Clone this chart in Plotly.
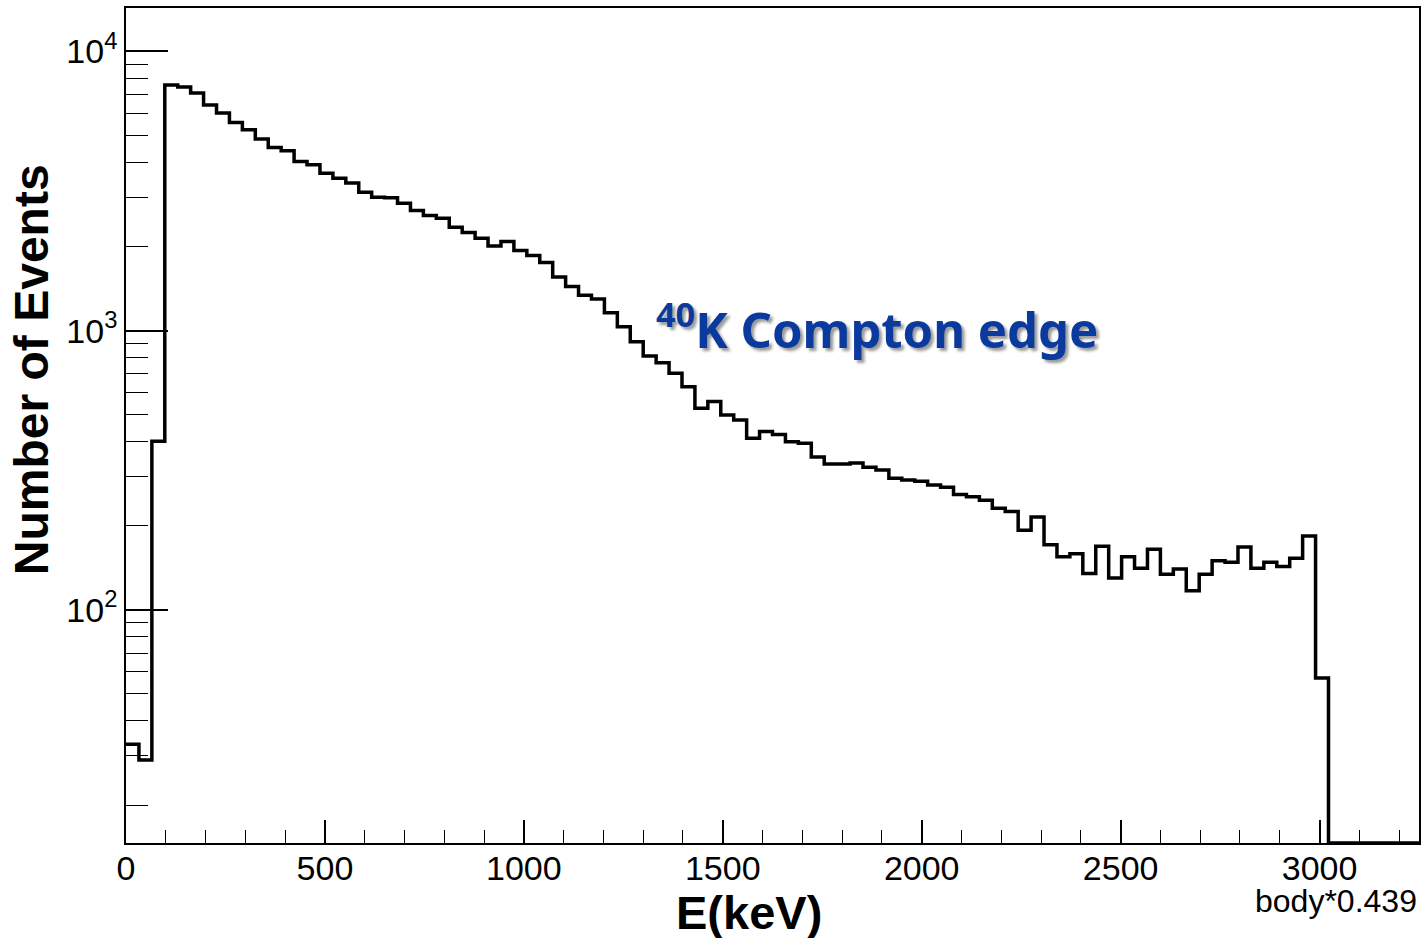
import numpy as np
import plotly.graph_objects as go

# ---- data ----
E_MIN, E_MAX, N_BINS = 0.0, 3250.0, 100
counts = [
    33, 29, 402, 7580, 7457, 7096, 6427, 6015, 5566, 5241,
    4853, 4529, 4406, 4036, 3928, 3666, 3517, 3376, 3133, 3006,
    2990, 2862, 2692, 2584, 2529, 2348, 2246, 2144, 2012, 2084,
    1935, 1857, 1753, 1558, 1438, 1339, 1299, 1160, 1033, 913,
    812, 768, 704, 630, 527, 557, 499, 479, 412, 435,
    425, 400, 395, 353, 333, 333, 336, 324, 317, 296,
    292, 289, 280, 275, 259, 254, 247, 231, 225, 193,
    215, 171, 155, 159, 135, 169, 130, 155, 141, 165,
    134, 140, 117, 134, 150, 148, 168, 141, 148, 143,
    153, 184, 57, 0, 0, 0, 0, 0, 0, 0,
]
x_major_ticks = [0, 500, 1000, 1500, 2000, 2500, 3000]
y_major_ticks = [100, 1000, 10000]
y_major_labels = ["10<sup>2</sup>", "10<sup>3</sup>", "10<sup>4</sup>"]
x_title = "E(keV)"
y_title = "Number of Events"
note_text = "body*0.439"
compton_text = "<sup>40</sup>K Compton edge"

# ---- axis ranges ----
Y_LOG_MIN, Y_LOG_MAX = 1.165, 4.1556
y_floor = 10 ** Y_LOG_MIN

edges = np.linspace(E_MIN, E_MAX, N_BINS + 1)
c = np.array(counts, dtype=float)
c_plot = np.where(c > 0, c, y_floor)
xs = list(edges[:-1]) + [edges[-1]]
ys = list(c_plot) + [c_plot[-1]]

y_minor = [d * 10 ** k for k in range(1, 4) for d in range(2, 10)]

fig = go.Figure()
fig.add_trace(go.Scatter(
    x=xs, y=ys, mode="lines", line=dict(shape="hv", color="black", width=3.5),
    showlegend=False, hoverinfo="skip",
))

FAM = "Liberation Sans, Arial, sans-serif"
TICKFONT = dict(family=FAM, size=34, color="black")

fig.update_layout(
    width=1427, height=938,
    margin=dict(l=126, r=6, t=8, b=95),
    paper_bgcolor="white", plot_bgcolor="white",
    xaxis=dict(
        range=[E_MIN, E_MAX], showgrid=False, zeroline=False,
        showline=True, mirror=True, linecolor="black", linewidth=1.5,
        ticks="inside", ticklen=23, tickwidth=1.5, tickcolor="black",
        tickmode="array", tickvals=x_major_ticks,
        ticktext=[str(v) for v in x_major_ticks],
        tickfont=TICKFONT, ticklabelstandoff=-6,
        minor=dict(ticks="inside", ticklen=13, tickwidth=1.2, tickcolor="black", dtick=100, showgrid=False),
    ),
    yaxis=dict(
        type="log", range=[Y_LOG_MIN, Y_LOG_MAX], showgrid=False, zeroline=False,
        showline=True, mirror=True, linecolor="black", linewidth=1.5,
        ticks="inside", ticklen=42, tickwidth=1.5, tickcolor="black",
        tickmode="array", tickvals=y_major_ticks, ticktext=y_major_labels,
        tickfont=TICKFONT,
        minor=dict(ticks="inside", ticklen=22, tickwidth=1.2, tickcolor="black",
                   tickmode="array", tickvals=y_minor, showgrid=False),
    ),
    annotations=[
        dict(text="<b>" + x_title + "</b>", xref="paper", yref="paper",
             x=(750 - 126) / 1295, y=(843 - 912) / 835, xanchor="center", yanchor="middle",
             showarrow=False, font=dict(family=FAM, size=47, color="black")),
        dict(text="<b>" + y_title + "</b>", xref="paper", yref="paper", textangle=-90,
             x=(31 - 126) / 1295, y=(843 - 370) / 835, xanchor="center", yanchor="middle",
             showarrow=False, font=dict(family=FAM, size=48, color="black")),
        dict(text=note_text, xref="paper", yref="paper",
             x=(1421 - 126) / 1295, y=(843 - 901) / 835, xanchor="right", yanchor="middle",
             showarrow=False, font=dict(family=FAM, size=32, color="black")),
        dict(text="<b>" + compton_text + "</b>", xref="paper", yref="paper",
             x=(655 - 126) / 1295, y=(843 - 326) / 835, xanchor="left", yanchor="middle",
             showarrow=False,
             font=dict(family="Noto Sans, DejaVu Sans, sans-serif", size=49, color="#0b3a9e",
                       shadow="3px 3px 3px #9a9a9a")),
    ],
)

fig.write_html("out.html")
